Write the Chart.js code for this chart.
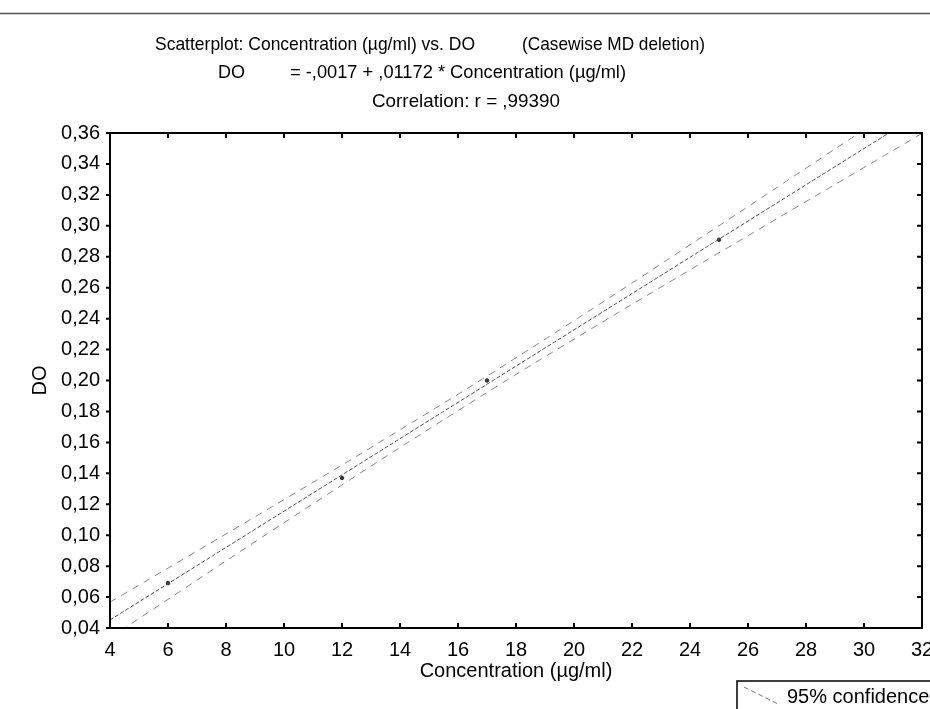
<!DOCTYPE html>
<html>
<head>
<meta charset="utf-8">
<script src="https://cdn.jsdelivr.net/npm/chart.js@4.4.1/dist/chart.umd.min.js"></script>
<style>
html,body{margin:0;padding:0;background:#fff;}
#wrap{position:relative;width:930px;height:709px;overflow:hidden;}
</style>
</head>
<body>
<div id="wrap"><canvas id="c" width="930" height="709"></canvas></div>
<script>
// ---- data ----
const titleLines = [
  "Scatterplot: Concentration (\u00b5g/ml) vs. DO",
  "(Casewise MD deletion)",
  "DO",
  "= -,0017 + ,01172 * Concentration (\u00b5g/ml)",
  "Correlation: r = ,99390"
];
const xTicks = [4,6,8,10,12,14,16,18,20,22,24,26,28,30,32];
const yTicks = [0.04,0.06,0.08,0.10,0.12,0.14,0.16,0.18,0.20,0.22,0.24,0.26,0.28,0.30,0.32,0.34,0.36];
const fitX = [4, 32];
const fitY = [0.0452, 0.3734];
const bandX = [4,6,8,10,12,14,16,18,20,22,24,26,28,30,32];
const bandUpper = [0.0567,0.0787,0.1008,0.1230,0.1453,0.1681,0.1911,0.2147,0.2387,0.2630,0.2877,0.3124,0.3373,0.3621,0.3871];
const bandLower = [0.0337,0.0585,0.0834,0.1080,0.1325,0.1567,0.1805,0.2039,0.2267,0.2492,0.2715,0.2936,0.3157,0.3377,0.3597];
const pointX = [6, 12, 17, 25];
const pointY = [0.069, 0.137, 0.200, 0.291];
const legendLabel = "95% confidence";
const xTitle = "Concentration (\u00b5g/ml)";
const yTitle = "DO";

const FONT = "'Liberation Sans', Arial, sans-serif";
const toXY = (xs, ys) => xs.map((x, i) => ({x: x, y: ys[i]}));

// draw text scaled horizontally so it spans [x0, x1]
function fitText(ctx, text, x0, x1, y) {
  const w = ctx.measureText(text).width;
  const sx = (x1 - x0) / w;
  ctx.save();
  ctx.translate(x0, y);
  ctx.scale(sx, 1);
  ctx.textAlign = 'left';
  ctx.fillText(text, 0, 0);
  ctx.restore();
}

const framePlugin = {
  id: 'frame',
  beforeDraw(chart) {
    const ctx = chart.ctx;
    ctx.save();
    ctx.strokeStyle = '#555';
    ctx.lineWidth = 1.5;
    ctx.beginPath(); ctx.moveTo(0, 13.5); ctx.lineTo(930, 13.5); ctx.stroke();
    ctx.fillStyle = '#000';
    ctx.font = '19px ' + FONT;
    ctx.textBaseline = 'middle';
    fitText(ctx, titleLines[0], 155, 475, 45);
    fitText(ctx, titleLines[1], 522, 705, 45);
    fitText(ctx, titleLines[2], 218, 245, 73);
    fitText(ctx, titleLines[3], 290, 626, 73);
    fitText(ctx, titleLines[4], 372, 560, 102);
    ctx.restore();
  },
  afterDraw(chart) {
    const ctx = chart.ctx;
    const a = chart.chartArea;
    const xs = chart.scales.x, ys = chart.scales.y;
    ctx.save();
    ctx.strokeStyle = '#000';
    ctx.lineWidth = 2;
    ctx.strokeRect(a.left, a.top, a.right - a.left, a.bottom - a.top);
    ctx.beginPath();
    xTicks.forEach(v => {
      const px = xs.getPixelForValue(v);
      ctx.moveTo(px, a.bottom); ctx.lineTo(px, a.bottom - 5);
      ctx.moveTo(px, a.top); ctx.lineTo(px, a.top + 5);
    });
    yTicks.forEach(v => {
      const py = ys.getPixelForValue(v);
      ctx.moveTo(a.left, py); ctx.lineTo(a.left - 4, py);
      ctx.moveTo(a.right, py); ctx.lineTo(a.right - 5, py);
    });
    ctx.stroke();
    // legend box
    ctx.lineWidth = 1.5;
    ctx.strokeRect(737, 681, 220, 40);
    ctx.strokeStyle = '#777';
    ctx.lineWidth = 1;
    ctx.setLineDash([5, 3]);
    ctx.beginPath(); ctx.moveTo(744, 687); ctx.lineTo(778, 704); ctx.stroke();
    ctx.setLineDash([]);
    ctx.fillStyle = '#000';
    ctx.font = '20px ' + FONT;
    ctx.textAlign = 'left';
    ctx.textBaseline = 'middle';
    ctx.fillText(legendLabel, 787, 697);
    ctx.restore();
  }
};

new Chart(document.getElementById('c'), {
  type: 'scatter',
  data: {
    datasets: [
      { label: 'upper', data: toXY(bandX, bandUpper), showLine: true, borderColor: '#8a8a8a', borderWidth: 1,
        borderDash: [7, 6], pointRadius: 0, cubicInterpolationMode: 'monotone', fill: false },
      { label: 'lower', data: toXY(bandX, bandLower), showLine: true, borderColor: '#8a8a8a', borderWidth: 1,
        borderDash: [7, 6], pointRadius: 0, cubicInterpolationMode: 'monotone', fill: false },
      { label: 'fit', data: toXY(fitX, fitY), showLine: true, borderColor: '#555', borderWidth: 1,
        borderDash: [4, 2], pointRadius: 0, fill: false },
      { label: 'points', data: toXY(pointX, pointY), showLine: false, pointRadius: 1.8,
        pointBackgroundColor: '#333', pointBorderColor: '#333', pointBorderWidth: 1 }
    ]
  },
  options: {
    responsive: false,
    animation: false,
    devicePixelRatio: 1,
    layout: { padding: { top: 133, right: 8, left: 0, bottom: 26 } },
    plugins: { legend: { display: false }, title: { display: false }, tooltip: { enabled: false } },
    scales: {
      x: {
        type: 'linear', min: 4, max: 32,
        afterBuildTicks: s => { s.ticks = xTicks.map(v => ({value: v})); },
        afterFit: s => { s.height = 55; s.paddingLeft = 0; s.paddingRight = 0; },
        grid: { display: false, drawTicks: false },
        border: { display: false },
        ticks: { color: '#000', font: { family: FONT, size: 20 }, padding: 10, maxRotation: 0, autoSkip: false },
        title: { display: true, text: xTitle, color: '#000', font: { family: FONT, size: 20 }, padding: { top: 0, bottom: 0 } }
      },
      y: {
        type: 'linear', min: 0.04, max: 0.36,
        afterBuildTicks: s => { s.ticks = yTicks.map(v => ({value: v})); },
        afterFit: s => { s.width = 110; s.paddingTop = 0; s.paddingBottom = 0; },
        grid: { display: false, drawTicks: false },
        border: { display: false },
        ticks: { color: '#000', font: { family: FONT, size: 20 }, padding: 10, autoSkip: false,
                 callback: v => v.toFixed(2).replace('.', ',') },
        title: { display: true, text: yTitle, color: '#000', font: { family: FONT, size: 20 }, padding: { top: 28, bottom: 0 } }
      }
    }
  },
  plugins: [framePlugin]
});
</script>
</body>
</html>
